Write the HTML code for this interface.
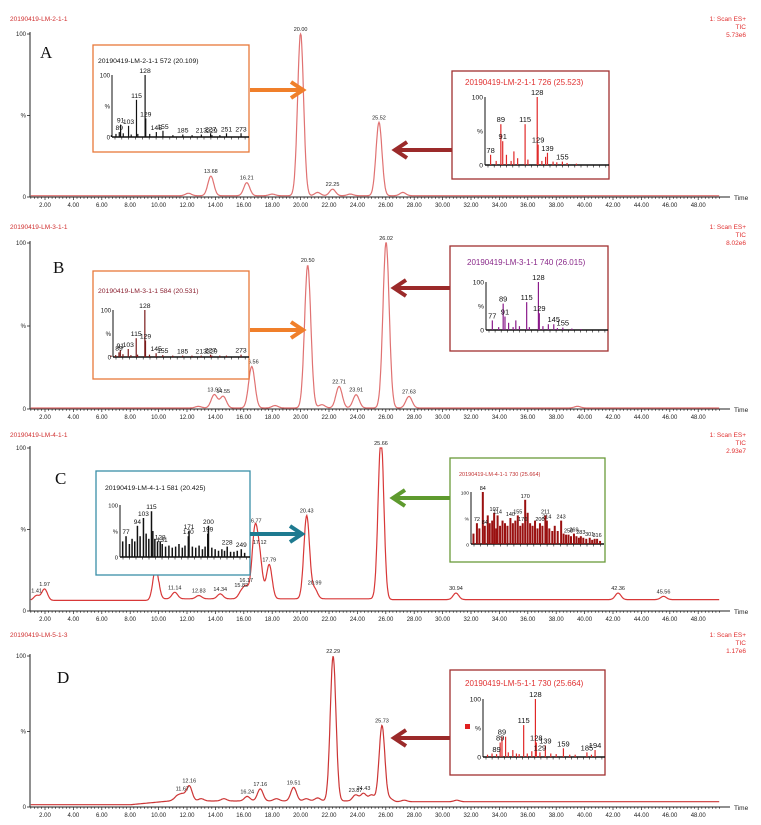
<!DOCTYPE html>
<html><head><meta charset="utf-8"><style>
html,body{margin:0;padding:0;background:#fff;}
svg{display:block;font-family:"Liberation Sans",sans-serif;}
</style></head><body>
<svg id="fig" width="761" height="825" viewBox="0 0 761 825" xmlns="http://www.w3.org/2000/svg"></svg>
<script>
// ---- chromatogram data (retention time in min, relative intensity %) ----
const peakTimesA = [12.1, 13.68, 16.21, 18.0, 20.00, 21.2, 22.25, 23.5, 25.52, 27.2];
const peakHeightsA = [1.5, 12, 8, 1, 100, 2, 4, 1, 45, 2];
const peakTimesB = [12.8, 13.92, 14.55, 16.56, 18.2, 20.50, 21.5, 22.71, 23.91, 26.02, 27.63, 39.5];
const peakHeightsB = [1, 8, 7, 25, 1.5, 86, 2, 13, 8, 100, 7, 1];
const peakTimesC = [1.41, 1.97, 9.8, 11.14, 12.83, 14.34, 15.82, 16.17, 16.77, 17.12, 17.79, 20.43, 20.99, 25.66, 30.94, 42.36, 45.56];
const peakHeightsC = [3, 7, 20, 4, 2, 3, 4, 7, 40, 23, 21, 51, 6, 100, 4, 4, 2];
const peakTimesD = [11.3, 11.67, 12.16, 13.0, 14.6, 16.24, 17.16, 18.3, 19.51, 20.4, 21.2, 22.29, 23.87, 24.43, 25.0, 25.73, 26.3, 27.3, 31.0];
const peakHeightsD = [3, 4, 10, 1.5, 1.5, 3, 8, 1.5, 9, 1.5, 2, 96, 4, 5, 4, 50, 2, 1, 1];
const labelTimesA = ["13.68","16.21","20.00","22.25","25.52"];
const labelTimesB = ["13.92","14.55","16.56","20.50","22.71","23.91","26.02","27.63"];
const labelTimesC = ["1.41","1.97","11.14","12.83","14.34","15.82","16.17","16.77","17.12","17.79","20.43","20.99","25.66","30.94","42.36","45.56"];
const labelTimesD = ["11.67","12.16","16.24","17.16","19.51","22.29","23.87","24.43","25.73"];
const xTickLabels = ["2.00","4.00","6.00","8.00","10.00","12.00","14.00","16.00","18.00","20.00","22.00","24.00","26.00","28.00","30.00","32.00","34.00","36.00","38.00","40.00","42.00","44.00","46.00","48.00"];

// ---- inset mass spectra (m/z, relative intensity %) ----
const specA1mz = [77,84,89,91,95,103,107,115,117,128,129,135,145,155,170,185,199,213,227,229,241,251,273];
const specA1int = [3,5,8,20,6,18,4,60,5,100,30,5,8,10,3,4,3,4,6,3,3,6,6];
const specA1lab = ["89","91","103","115","128","129","145","155","185","213","227","229","251","273"];
const specA2mz = [78,84,89,91,95,100,103,107,115,118,128,129,133,137,139,145,149,155,160,170];
const specA2int = [15,6,60,35,15,6,20,10,60,8,100,30,6,12,18,5,4,5,3,2];
const specA2lab = ["78","89","91","115","128","129","139","155"];
const specB1mz = [77,84,89,91,95,103,107,115,117,128,129,135,145,155,170,185,199,213,227,229,241,251,273];
const specB1int = [3,4,10,15,6,17,4,40,5,100,35,5,8,4,3,3,3,3,5,3,3,3,5];
const specB1lab = ["89","91","103","115","128","129","145","155","185","213","227","229","273"];
const specB2mz = [77,84,89,91,95,100,103,107,115,118,128,129,133,139,145,149,155,165,175];
const specB2int = [20,6,55,28,15,6,20,8,58,6,100,35,8,12,12,4,5,3,2];
const specB2lab = ["77","89","91","115","128","129","145","155"];
const specC1mz = [72,77,82,86,90,94,98,103,107,111,115,117,120,124,128,131,136,141,146,151,156,161,165,170,171,176,181,186,191,195,199,200,205,210,215,220,224,228,233,238,243,249,254];
const specC1int = [30,40,25,35,30,60,40,75,45,35,88,50,35,30,30,25,20,22,18,20,25,18,22,40,50,20,18,22,15,20,45,60,18,15,12,15,12,20,10,10,12,15,8];
const specC1lab = ["77","94","103","115","128","131","170","171","199","200","228","249"];
const specC2mz = [65,72,77,84,88,94,98,103,107,111,114,119,124,129,134,140,145,150,155,160,165,170,175,180,185,190,195,200,205,211,214,219,225,230,236,243,248,253,258,263,269,274,279,283,288,294,301,306,311,316,322];
const specC2int = [20,40,30,100,35,55,40,45,60,30,55,35,45,40,35,50,40,45,55,35,40,85,60,40,35,45,30,40,35,55,45,30,25,35,25,45,20,18,18,15,20,15,12,15,12,10,12,8,10,10,6];
const specC2lab = ["72","84","84","107","114","140","155","170","170","200","211","214","243","258","269","283","301","316"];
const specD1mz = [75,80,85,89,91,95,98,103,107,110,115,119,124,128,129,133,139,145,151,159,166,172,185,190,194];
const specD1int = [4,6,5,25,35,35,8,12,6,5,55,6,10,100,25,8,20,6,5,15,4,4,8,4,12];
const specD1lab = ["89","89","89","115","128","128","129","139","159","185","194"];

const NS = "http://www.w3.org/2000/svg";
const svg = document.getElementById('fig');
function el(tag, attrs, parent){const e=document.createElementNS(NS,tag);for(const k in attrs)e.setAttribute(k,attrs[k]);(parent||svg).appendChild(e);return e;}
function txt(s, attrs, parent){const e=el('text',attrs,parent);e.textContent=s;return e;}

const T0=2, X0=45, PXM=14.2;
function xOf(t){return X0+(t-T0)*PXM;}

function panel(cfg){
  const g=el('g',{});
  
  
  const yOf=v=>cfg.y0-(v/100)*(cfg.y0-cfg.y100);
  const st=txt(cfg.sample,{x:10,y:cfg.labelY,'font-size':6.5,fill:'#d03030'},g);
  
  
  ["1: Scan ES+","TIC",cfg.scale].forEach((s,i)=>{
    const t=txt(s,{x:746,y:cfg.labelY+i*8,'font-size':6.5,fill:'#e03030','text-anchor':'end'},g);
    
    
  });
  const ya=el('line',{x1:30,y1:cfg.y100-2,x2:30,y2:cfg.y0,stroke:'#222','stroke-width':1},g);
  
  
  const xa=el('line',{x1:30,y1:cfg.y0,x2:730,y2:cfg.y0,stroke:'#222','stroke-width':1},g);
  
  
  [["100",cfg.y100],["%",(cfg.y100+cfg.y0)/2],["0",cfg.y0]].forEach(([s,y])=>{
    el('line',{x1:27,y1:y,x2:30,y2:y,stroke:'#222','stroke-width':0.8},g);
    const t=txt(s,{x:26,y:y+2,'font-size':6,'text-anchor':'end',fill:'#222'},g);
    
    
  });
  let ticks='';
  for(let t=1;t<=49.6;t+=0.25){const x=xOf(t);const major=Math.abs(t-Math.round(t))<0.01&&Math.round(t)%2===0;ticks+=`M${x.toFixed(1)} ${cfg.y0}V${cfg.y0+(major?3:1.8)}`;}
  el('path',{d:ticks,stroke:'#222','stroke-width':0.7},g);
  xTickLabels.forEach(s=>{
    const t=txt(s,{x:xOf(parseFloat(s)),y:cfg.y0+10,'font-size':6,'text-anchor':'middle',fill:'#222'},g);
    
    
  });
  const tl=txt("Time",{x:734,y:cfg.y0+3,'font-size':6.5,fill:'#222'},g);
  
  
  let d='';
  for(let t=1;t<=49.5;t+=0.04){
    let v=cfg.base(t);
    cfg.times.forEach((c,i)=>{v+=cfg.heights[i]*Math.exp(-0.5*Math.pow((t-c)/cfg.w,2));});
    v=Math.min(v,100);
    d+=(d?'L':'M')+xOf(t).toFixed(1)+' '+yOf(v).toFixed(1);
  }
  const tr=el('path',{d:d,fill:'none',stroke:cfg.color,'stroke-width':1.2},g);
  
  
  cfg.labels.forEach(s=>{
    const t0=parseFloat(s);
    let v=cfg.base(t0);
    cfg.times.forEach((c,i)=>{v+=cfg.heights[i]*Math.exp(-0.5*Math.pow((t0-c)/cfg.w,2));});
    const t=txt(s,{x:xOf(t0),y:yOf(Math.min(v,100))-3,'font-size':5.5,'text-anchor':'middle',fill:'#222'},g);
    
    
  });
  const L=txt(cfg.letter,{x:cfg.letterX,y:cfg.letterY,'font-size':17,'font-family':'Liberation Serif, serif',fill:'#111'},g);
  
  
  return g;
}

function inset(c){
  const g=el('g',{});
  
  
  el('rect',{x:c.bx,y:c.by,width:c.bw,height:c.bh,fill:'#fff',stroke:c.border,'stroke-width':1.3},g);
  const tt=txt(c.title,{x:c.tx,y:c.ty,'font-size':c.tfs,fill:c.tcol},g);
  
  
  const mx=m=>c.ax0+(m-c.m0)/(c.m1-c.m0)*(c.ax1-c.ax0);
  const my=v=>c.y0-(v/100)*(c.y0-c.y100);
  el('line',{x1:c.ax0,y1:c.y100,x2:c.ax0,y2:c.y0,stroke:'#111','stroke-width':1},g);
  el('line',{x1:c.ax0,y1:c.y0,x2:c.ax1,y2:c.y0,stroke:'#111','stroke-width':1.4},g);
  [["100",c.y100],["%",(c.y100+c.y0)/2],["0",c.y0]].forEach(([s,y])=>{
    txt(s,{x:c.ax0-2,y:y+2.5,'font-size':c.lfs*0.9,'text-anchor':'end',fill:'#111'},g);
  });
  let tk='';
  for(let x=c.ax0+3;x<c.ax1;x+=(c.ax1-c.ax0)/20)tk+=`M${x.toFixed(1)} ${c.y0}V${c.y0+2.5}`;
  el('path',{d:tk,stroke:'#111','stroke-width':0.6},g);
  c.mz.forEach((m,i)=>{
    const b=el('line',{x1:mx(m),y1:c.y0,x2:mx(m),y2:my(c.int[i]),stroke:c.bar,'stroke-width':c.bw2||1.2},g);
    
    
  });
  const used={};
  c.labs.forEach(s=>{
    const m=parseFloat(s);
    let idx=-1,best=1e9;
    c.mz.forEach((mm,i)=>{const dd=Math.abs(mm-m)+(used[i]?30:0);if(dd<best){best=dd;idx=i;}});
    used[idx]=1;
    const t=txt(s,{x:mx(c.mz[idx]),y:my(c.int[idx])-2,'font-size':c.lfs,'text-anchor':'middle',fill:'#111'},g);
    
    
  });
}

function arrow(x1,x2,y,col,name){
  const g=el('g',{});
  
  
  const dir=Math.sign(x2-x1);
  el('line',{x1:x1,y1:y,x2:x2-dir*3,y2:y,stroke:col,'stroke-width':4},g);
  el('path',{d:`M${x2-dir*12} ${y-8}L${x2} ${y}L${x2-dir*12} ${y+8}`,fill:'none',stroke:col,'stroke-width':4,'stroke-linejoin':'miter'},g);
}

panel({name:'panel-a',sample:'20190419-LM-2-1-1',scale:'5.73e6',labelY:21,y100:34,y0:197,times:peakTimesA,heights:peakHeightsA,labels:labelTimesA,w:0.21,color:'#e07272',base:t=>0.8,letter:'A',letterX:40,letterY:58});
panel({name:'panel-b',sample:'20190419-LM-3-1-1',scale:'8.02e6',labelY:229,y100:243,y0:409,times:peakTimesB,heights:peakHeightsB,labels:labelTimesB,w:0.22,color:'#e07272',base:t=>0.6,letter:'B',letterX:53,letterY:273});
panel({name:'panel-c',sample:'20190419-LM-4-1-1',scale:'2.93e7',labelY:437,y100:448,y0:611,times:peakTimesC,heights:peakHeightsC,labels:labelTimesC,w:0.2,color:'#d83838',base:t=>t<10?6.5:(t<26?7.5:7),letter:'C',letterX:55,letterY:484});
panel({name:'panel-d',sample:'20190419-LM-5-1-3',scale:'1.17e6',labelY:637,y100:656,y0:807,times:peakTimesD,heights:peakHeightsD,labels:labelTimesD,w:0.2,color:'#cc3535',base:t=>t<8?1.5:(t<11?1.5+(t-8)*0.9:(t<26?4:3.5)),letter:'D',letterX:57,letterY:683});

inset({name:'inset-a-left',bx:93,by:45,bw:156,bh:107,border:'#e8783a',title:'20190419-LM-2-1-1 572 (20.109)',tx:98,ty:63,tfs:6.8,tcol:'#111',ax0:112,ax1:249,y100:75,y0:137,m0:78,m1:285,mz:specA1mz,int:specA1int,labs:specA1lab,bar:'#111',lfs:6.8});
inset({name:'inset-a-right',bx:452,by:71,bw:157,bh:108,border:'#a03030',title:'20190419-LM-2-1-1 726 (25.523)',tx:465,ty:85,tfs:8,tcol:'#e03030',ax0:485,ax1:609,y100:97,y0:165,m0:72,m1:205,mz:specA2mz,int:specA2int,labs:specA2lab,bar:'#e02828',lfs:7.5});
inset({name:'inset-b-left',bx:93,by:271,bw:156,bh:108,border:'#e8783a',title:'20190419-LM-3-1-1 584 (20.531)',tx:98,ty:293,tfs:6.8,tcol:'#8a2030',ax0:113,ax1:249,y100:310,y0:357,m0:80,m1:285,mz:specB1mz,int:specB1int,labs:specB1lab,bar:'#7a1a1a',lfs:6.8});
inset({name:'inset-b-right',bx:450,by:246,bw:158,bh:105,border:'#a03030',title:'20190419-LM-3-1-1 740 (26.015)',tx:467,ty:265,tfs:8,tcol:'#8a2a8a',ax0:486,ax1:608,y100:282,y0:330,m0:70,m1:205,mz:specB2mz,int:specB2int,labs:specB2lab,bar:'#8a1a8a',lfs:7.5});
inset({name:'inset-c-left',bx:96,by:471,bw:154,bh:104,border:'#3a8ea8',title:'20190419-LM-4-1-1 581 (20.425)',tx:105,ty:490,tfs:6.8,tcol:'#111',ax0:120,ax1:250,y100:505,y0:557,m0:68,m1:262,mz:specC1mz,int:specC1int,labs:specC1lab,bar:'#111',lfs:6.5,bw2:1.5});
inset({name:'inset-c-right',bx:450,by:458,bw:155,bh:104,border:'#6a9a3a',title:'20190419-LM-4-1-1 730 (25.664)',tx:459,ty:476,tfs:5.5,tcol:'#c03030',ax0:471,ax1:604,y100:492,y0:544,m0:60,m1:330,mz:specC2mz,int:specC2int,labs:specC2lab,bar:'#9a1010',lfs:5.5,bw2:2});
inset({name:'inset-d',bx:450,by:670,bw:155,bh:105,border:'#a03030',title:'20190419-LM-5-1-1 730 (25.664)',tx:465,ty:686,tfs:8,tcol:'#e03030',ax0:483,ax1:605,y100:699,y0:757,m0:70,m1:205,mz:specD1mz,int:specD1int,labs:specD1lab,bar:'#e02828',lfs:7.5});
const sq=el('rect',{x:465,y:724,width:5,height:5,fill:'#e02020'});



arrow(250,303,90,'#f07f2a','arrow-a-left');
arrow(452,395,150,'#9b2a2a','arrow-a-right');
arrow(250,303,330,'#f07f2a','arrow-b-left');
arrow(450,394,288,'#9b2a2a','arrow-b-right');
arrow(250,302,534,'#1e7a90','arrow-c-left');
arrow(450,393,498,'#5e9a2e','arrow-c-right');
arrow(450,394,738,'#9b2a2a','arrow-d');
</script>
</body></html>
